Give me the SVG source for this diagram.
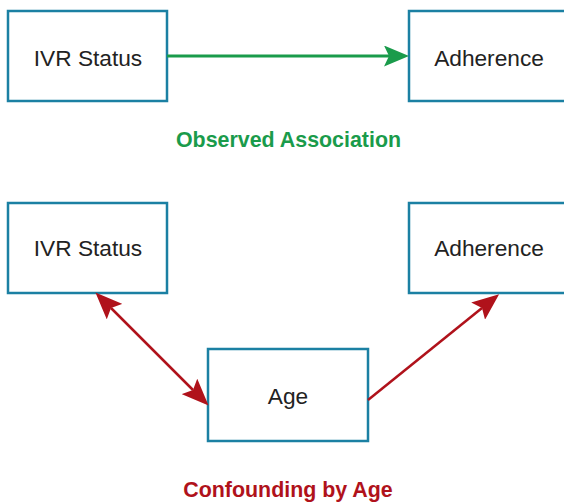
<svg xmlns="http://www.w3.org/2000/svg" width="564" height="503" viewBox="0 0 564 503">
<style>
.box{fill:#fff;stroke:#1b80a3;stroke-width:2.5}
.lbl{font-family:"Liberation Sans",Arial,sans-serif;font-size:22.7px;fill:#222;text-anchor:middle}
.ttl{font-family:"Liberation Sans",Arial,sans-serif;font-size:21.4px;font-weight:bold;text-anchor:middle}
.g{stroke:#1a9b4b;stroke-width:3;fill:none}
.r{stroke:#b0121b;stroke-width:2.5;fill:none}
</style>
<defs>
<marker id="ag" markerUnits="userSpaceOnUse" markerWidth="26" markerHeight="22" refX="5" refY="10.5" orient="auto" viewBox="0 0 26 22">
<path d="M0,0 L25,10.5 L0,21 L5,10.5 Z" fill="#1a9b4b"/>
</marker>
<marker id="ar" markerUnits="userSpaceOnUse" markerWidth="28" markerHeight="22" refX="5" refY="11" orient="auto-start-reverse" viewBox="0 0 28 22">
<path d="M0,0 L27,11 L0,22 L5,11 Z" fill="#b0121b"/>
</marker>
</defs>
<g id="ivr1"><rect class="box" x="8" y="11" width="159" height="90"/><text class="lbl" x="88" y="66">IVR Status</text></g>
<g id="adh1"><rect class="box" x="409" y="11" width="162" height="90"/><text class="lbl" x="489" y="66">Adherence</text></g>
<g id="ivr2"><rect class="box" x="8" y="203" width="159" height="90"/><text class="lbl" x="88" y="256">IVR Status</text></g>
<g id="adh2"><rect class="box" x="409" y="203" width="162" height="90"/><text class="lbl" x="489" y="256">Adherence</text></g>
<g id="age"><rect class="box" x="208" y="349" width="160" height="92"/><text class="lbl" x="288" y="404">Age</text></g>
<g id="connectors">
<line class="g" x1="167" y1="56" x2="389" y2="56" marker-end="url(#ag)"/>
<line class="r" x1="111" y1="308" x2="193" y2="390" marker-start="url(#ar)" marker-end="url(#ar)"/>
<line class="r" x1="368" y1="400" x2="482" y2="308" marker-end="url(#ar)"/>
</g>
<text class="ttl" x="288.5" y="147" fill="#1a9b4b">Observed Association</text>
<text class="ttl" x="288" y="497" fill="#b0121b">Confounding by Age</text>
</svg>
